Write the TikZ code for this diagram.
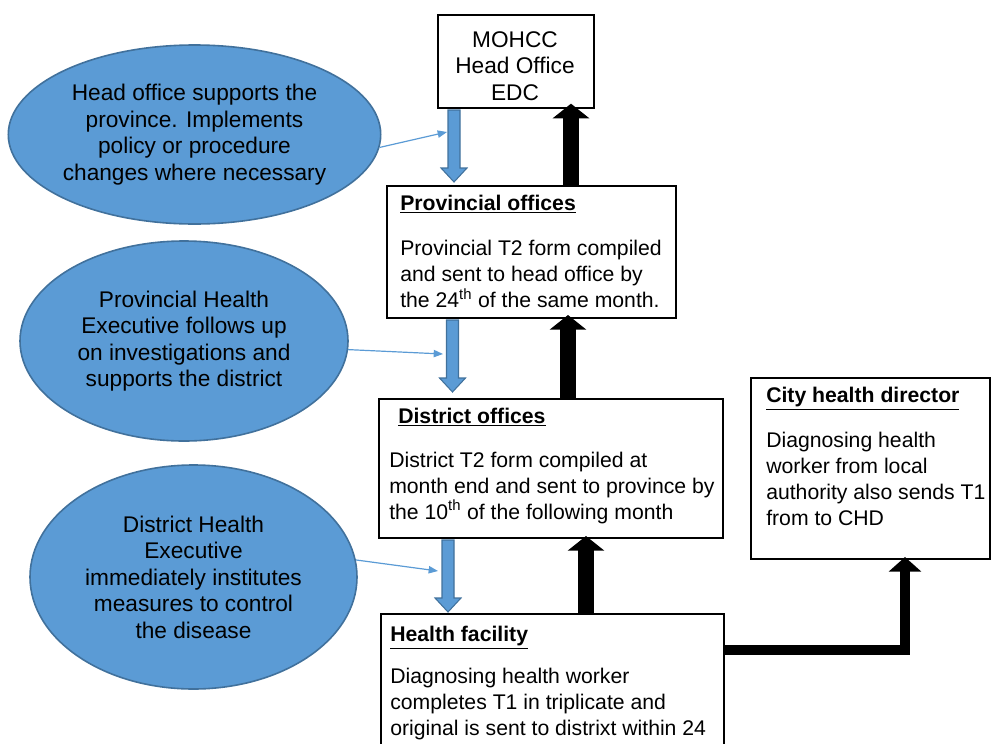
\documentclass[tikz,border=0pt]{standalone}
\usepackage{fontspec}
\setmainfont{Liberation Sans}
\usetikzlibrary{arrows.meta,shapes.geometric,positioning}
\definecolor{officeblue}{RGB}{91,155,213}
\definecolor{officeedge}{RGB}{65,113,156}
\tikzset {
        boxnode/.style={draw, line width=1.5pt, anchor=north west, inner sep=0pt},
        boxtext/.style={anchor=north west, align=left, inner sep=0pt, font=\fontsize{15.9pt}{19.5pt}\selectfont},
        bubble/.style={ellipse, draw=officeedge, line width=1.2pt, fill=officeblue, align=center, inner sep=0pt, font=\fontsize{17pt}{19.9pt}\selectfont},
        uparrow/.style={line width=12pt, -{Triangle[width=27pt,length=11pt]}},
        sidearrow/.style={line width=7.5pt, line join=miter, -{Triangle[width=24pt,length=11pt]}},
        pointer/.style={officeblue, line width=0.9pt, -{Triangle[width=5.5pt,length=7pt]}},
        pics/downarrow/.style={code={
            \filldraw[fill=officeblue, draw=officeedge, line width=0.8pt] (-6,0) -- (6,0) -- (6,58) -- (13,58) -- (0,72) -- (-13,58) -- (-6,58) -- cycle;
        }}
}

\begin{document}
\begin{tikzpicture}[x=0.75pt, y=-0.75pt]
            \useasboundingbox (0,0) rectangle (992,743);
            \clip (0,0) rectangle (992,743);
            % boxes
            \node[boxnode, minimum width=117pt, minimum height=69.75pt] (MOHCC) at (437,14) {};
            \node[boxnode, minimum width=216.75pt, minimum height=99pt] (Provincial) at (386,185) {};
            \node[boxnode, minimum width=258pt, minimum height=104.25pt] (District) at (378,398) {};
            \node[boxnode, minimum width=179.25pt, minimum height=135.75pt] (City) at (750,377) {};
            \node[boxnode, minimum width=257.25pt, minimum height=120pt] (Health) at (380,613) {};
            % box texts
            \node[boxtext, anchor=north, align=center, font=\fontsize{17pt}{19.9pt}\selectfont] (MOHCCText) at (515,31) {
                MOHCC\\Head Office\\EDC
            };
            \node[boxtext] (ProvincialText) at (400,195) {
                \textbf{\underline{Provincial offices}}\\[14.5pt]
                Provincial T2 form compiled\\
                and sent to head office by\\
                the 24\textsuperscript{th} of the same month.
            };
            \node[boxtext] (DistrictText) at (389,407.5) {
                \hspace*{6.75pt}\textbf{\underline{District offices}}\\[13.5pt]
                District T2 form compiled at\\
                month end and sent to province by\\
                the 10\textsuperscript{th} of the following month
            };
            \node[boxtext] (CityText) at (766,387) {
                \textbf{\underline{City health director}}\\[14.5pt]
                Diagnosing health\\
                worker from local\\
                authority also sends T1\\
                from to CHD
            };
            \node[boxtext] (HealthText) at (390,626) {
                \textbf{\underline{Health facility}}\\[12pt]
                Diagnosing health worker\\
                completes T1 in triplicate and\\
                original is sent to distrixt within 24
            };
            % ellipses
            \node[bubble, minimum width=275.25pt, minimum height=134.25pt] (HeadSupport) at (194.5,134.5) {
                Head office supports the\\province. Implements\\policy or procedure\\changes where necessary
            };
            \node[bubble, minimum width=246pt, minimum height=150pt] (ProvSupport) at (184,341) {
                Provincial Health\\Executive follows up\\on investigations and\\supports the district
            };
            \node[bubble, minimum width=245.25pt, minimum height=168pt] (DistSupport) at (193.5,577) {
                District Health\\Executive\\immediately institutes\\measures to control\\the disease
            };
            % blue arrows down
            \pic at (454,110) {downarrow};
            \pic at (452.5,320) {downarrow};
            \pic at (448,540) {downarrow};
            \coordinate (inOne) at (447,132);
            \coordinate (inTwo) at (443,354);
            \coordinate (inThree) at (438,571);
            \draw[pointer] (HeadSupport.-4) -- (inOne);
            \draw[pointer] (ProvSupport.-3) -- (inTwo);
            \draw[pointer] (DistSupport.6) -- (inThree);
            % reports up
            \draw[uparrow, shorten >=-4pt] (571,0 |- Provincial.north) -- (571,0 |- MOHCC.south);
            \draw[uparrow, shorten >=-3pt] (568,0 |- District.north) -- (568,0 |- Provincial.south);
            \draw[uparrow, shorten >=-2.25pt] (586,0 |- Health.north) -- (586,0 |- District.south);
            \draw[sidearrow, shorten >=-2.25pt] (Health.east |- 0,650) -| (905,0 |- City.south);
\end{tikzpicture}
\end{document}
